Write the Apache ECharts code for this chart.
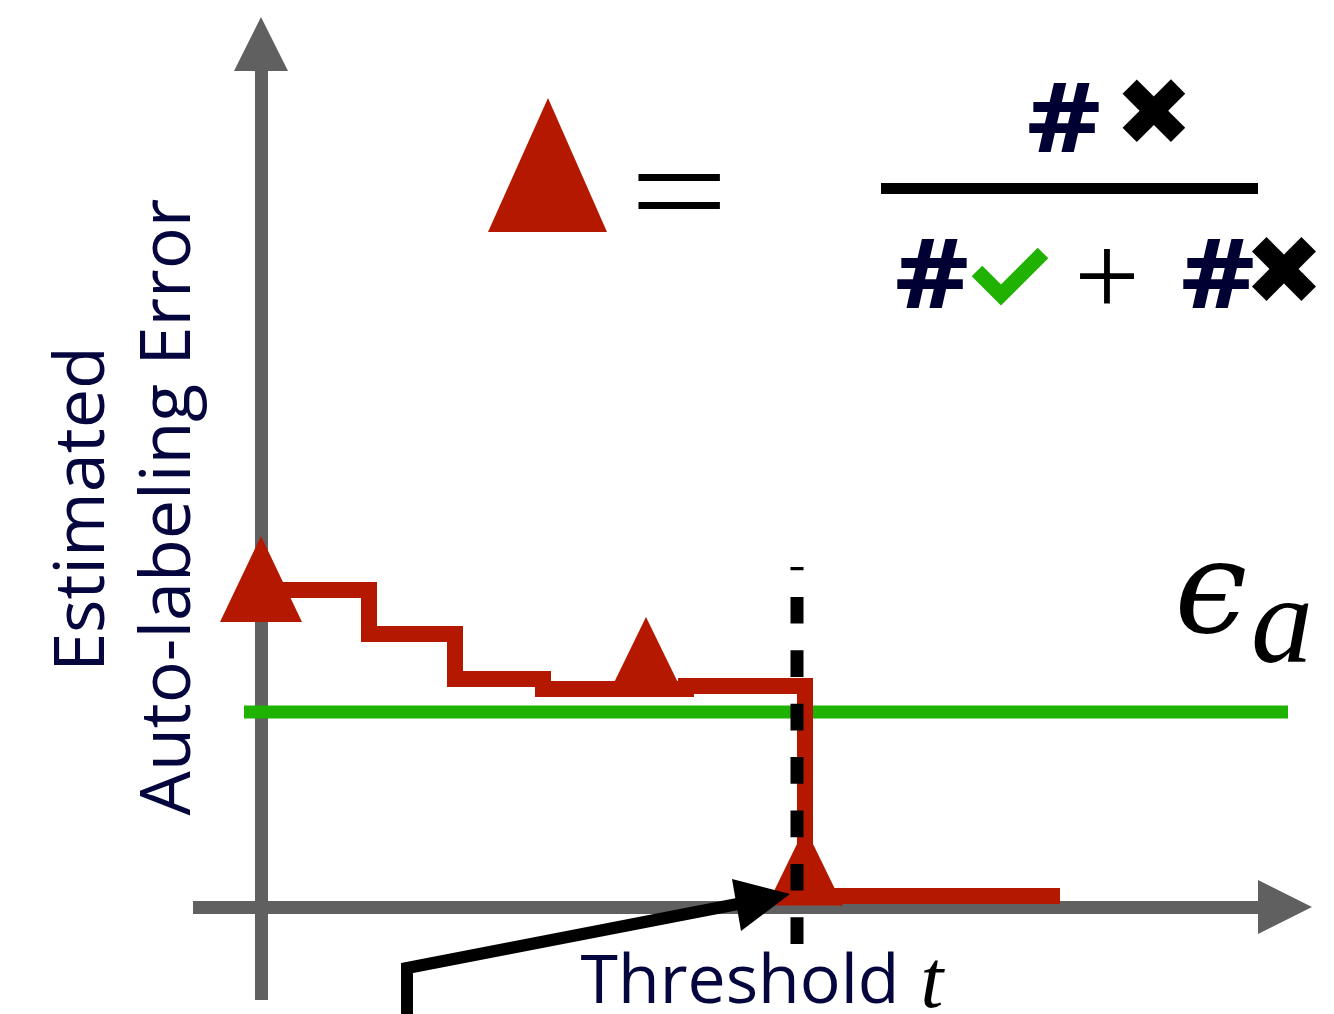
<!DOCTYPE html>
<html>
<head>
<meta charset="utf-8">
<script src="https://cdn.jsdelivr.net/npm/echarts@6/dist/echarts.min.js"></script>
<style>
  html, body { margin: 0; padding: 0; background: #ffffff; }
  #chart { width: 1334px; height: 1014px; }
</style>
</head>
<body>
<div id="chart"></div>
<script>
// Step curve: estimated auto-labeling error as the threshold t grows
const stepThreshold = [0, 1.08, 1.94, 2.82, 4.25, 5.44, 7.99];
const stepError     = [3.17, 2.73, 2.28, 2.18, 2.21, 0.11, 0.11];

// Triangle markers sitting on the curve
const markerThreshold = [0, 3.85, 5.44];
const markerError     = [3.28, 2.50, 0.405];

// Error tolerance epsilon_a (horizontal line) and its extent along t
const epsilonA = 1.95;
const epsilonSpan = [-0.17, 10.27];

// Chosen threshold (dashed vertical) and its extent along the error axis
const thresholdT = 5.36;
const thresholdSpan = [-0.37, 3.40];

// Axis titles
const yTitleLines = ['Estimated', 'Auto-labeling Error'];
const xTitle = 'Threshold';

const RED = '#b41900';
const GREEN = '#1fb200';
const GREY = '#606060';
const NAVY = '#06063f';

const chart = echarts.init(document.getElementById('chart'), null, { renderer: 'canvas' });

const axisCommon = {
  type: 'value',
  axisLine: {
    show: true,
    onZero: true,
    symbol: ['none', 'triangle'],
    symbolSize: [54, 54],
    lineStyle: { color: GREY, width: 13, cap: 'butt' }
  },
  axisTick: { show: false },
  axisLabel: { show: false },
  splitLine: { show: false }
};

const triangleSizes = [[82, 86], [78, 80], [76, 78]];

function label(text, x, y, font, fill, extra) {
  return Object.assign({
    type: 'text', x: x, y: y, z: 10,
    style: { text: text, x: 0, y: 0, fill: fill, font: font,
      textAlign: 'center', textVerticalAlign: 'middle' }
  }, extra || {});
}

const option = {
  animation: false,
  backgroundColor: '#ffffff',
  grid: { left: 193, right: 49, top: 44, bottom: 14 },
  xAxis: Object.assign({}, axisCommon, { min: -0.68, max: 10.24 }),
  yAxis: Object.assign({}, axisCommon, { min: -0.93, max: 8.63 }),
  series: [
    {
      name: 'epsilon_a',
      type: 'line',
      clip: false,
      z: 2,
      symbol: 'none',
      lineStyle: { color: GREEN, width: 13, cap: 'butt' },
      data: epsilonSpan.map(t => [t, epsilonA])
    },
    {
      name: 'estimated error',
      type: 'line',
      step: 'end',
      z: 3,
      symbol: 'none',
      lineStyle: { color: RED, width: 16, cap: 'butt', join: 'miter' },
      data: stepThreshold.map((t, i) => [t, stepError[i]])
    },
    {
      name: 'markers',
      type: 'scatter',
      z: 4,
      symbol: 'triangle',
      symbolSize: (v, p) => triangleSizes[p.dataIndex],
      itemStyle: { color: RED, opacity: 1 },
      data: markerThreshold.map((t, i) => [t, markerError[i]])
    },
    {
      name: 'threshold',
      type: 'line',
      clip: false,
      z: 5,
      symbol: 'none',
      lineStyle: { color: '#000000', width: 13, type: [26.7, 26.7], cap: 'butt' },
      data: thresholdSpan.map(e => [thresholdT, e])
    }
  ],
  graphic: [
    // axis titles
    label(yTitleLines[0], 84, 509, '70px "Open Sans"', NAVY, { rotation: Math.PI / 2 }),
    label(yTitleLines[1], 170, 507, '70px "Open Sans"', NAVY, { rotation: Math.PI / 2 }),
    label(xTitle, 740, 984, '68px "Open Sans"', NAVY),
    label('t', 932, 985, 'italic 82px "Liberation Serif"', '#000000'),

    // epsilon_a label
    label('\u03F5', 1211, 598, 'italic 130px "DejaVu Serif"', '#000000'),
    label('a', 1282, 629, 'italic 124px "Liberation Serif"', '#000000'),

    // triangle = #x / (#check + #x)
    {
      type: 'polygon', z: 10,
      shape: { points: [[548, 98], [607, 232], [488, 232]] },
      style: { fill: RED }
    },
    label('=', 679, 201, '140px "Liberation Serif"', '#000000', { scaleX: 1.25 }),
    {
      type: 'rect', z: 10,
      shape: { x: 881, y: 183, width: 377, height: 11 },
      style: { fill: '#000000' }
    },
    label('#', 1064, 125, 'bold 96px "Open Sans"', '#000033', { scaleX: 1.2 }),
    label('\u2716', 1154, 121, '94px "DejaVu Sans"', '#000000'),
    label('#', 932, 281, 'bold 96px "Open Sans"', '#000033', { scaleX: 1.2 }),
    {
      type: 'polyline', z: 10,
      shape: { points: [[977, 271], [1001, 295], [1043, 253]] },
      style: { stroke: GREEN, lineWidth: 15, lineJoin: 'miter', lineCap: 'butt', fill: null }
    },
    label('+', 1107, 285, '116px "Liberation Serif"', '#000000'),
    label('#', 1218, 281, 'bold 96px "Open Sans"', '#000033', { scaleX: 1.2 }),
    label('\u2716', 1284, 279, '96px "DejaVu Sans"', '#000000'),

    // pointer towards the threshold on the t axis
    {
      type: 'polyline', z: 20,
      shape: { points: [[407, 1020], [407, 968], [748, 902]] },
      style: { stroke: '#000000', lineWidth: 12, lineJoin: 'miter', fill: null }
    },
    {
      type: 'polygon', z: 20,
      shape: { points: [[790, 894], [732, 879], [741, 931]] },
      style: { fill: '#000000' }
    }
  ]
};

chart.setOption(option);
</script>
</body>
</html>
